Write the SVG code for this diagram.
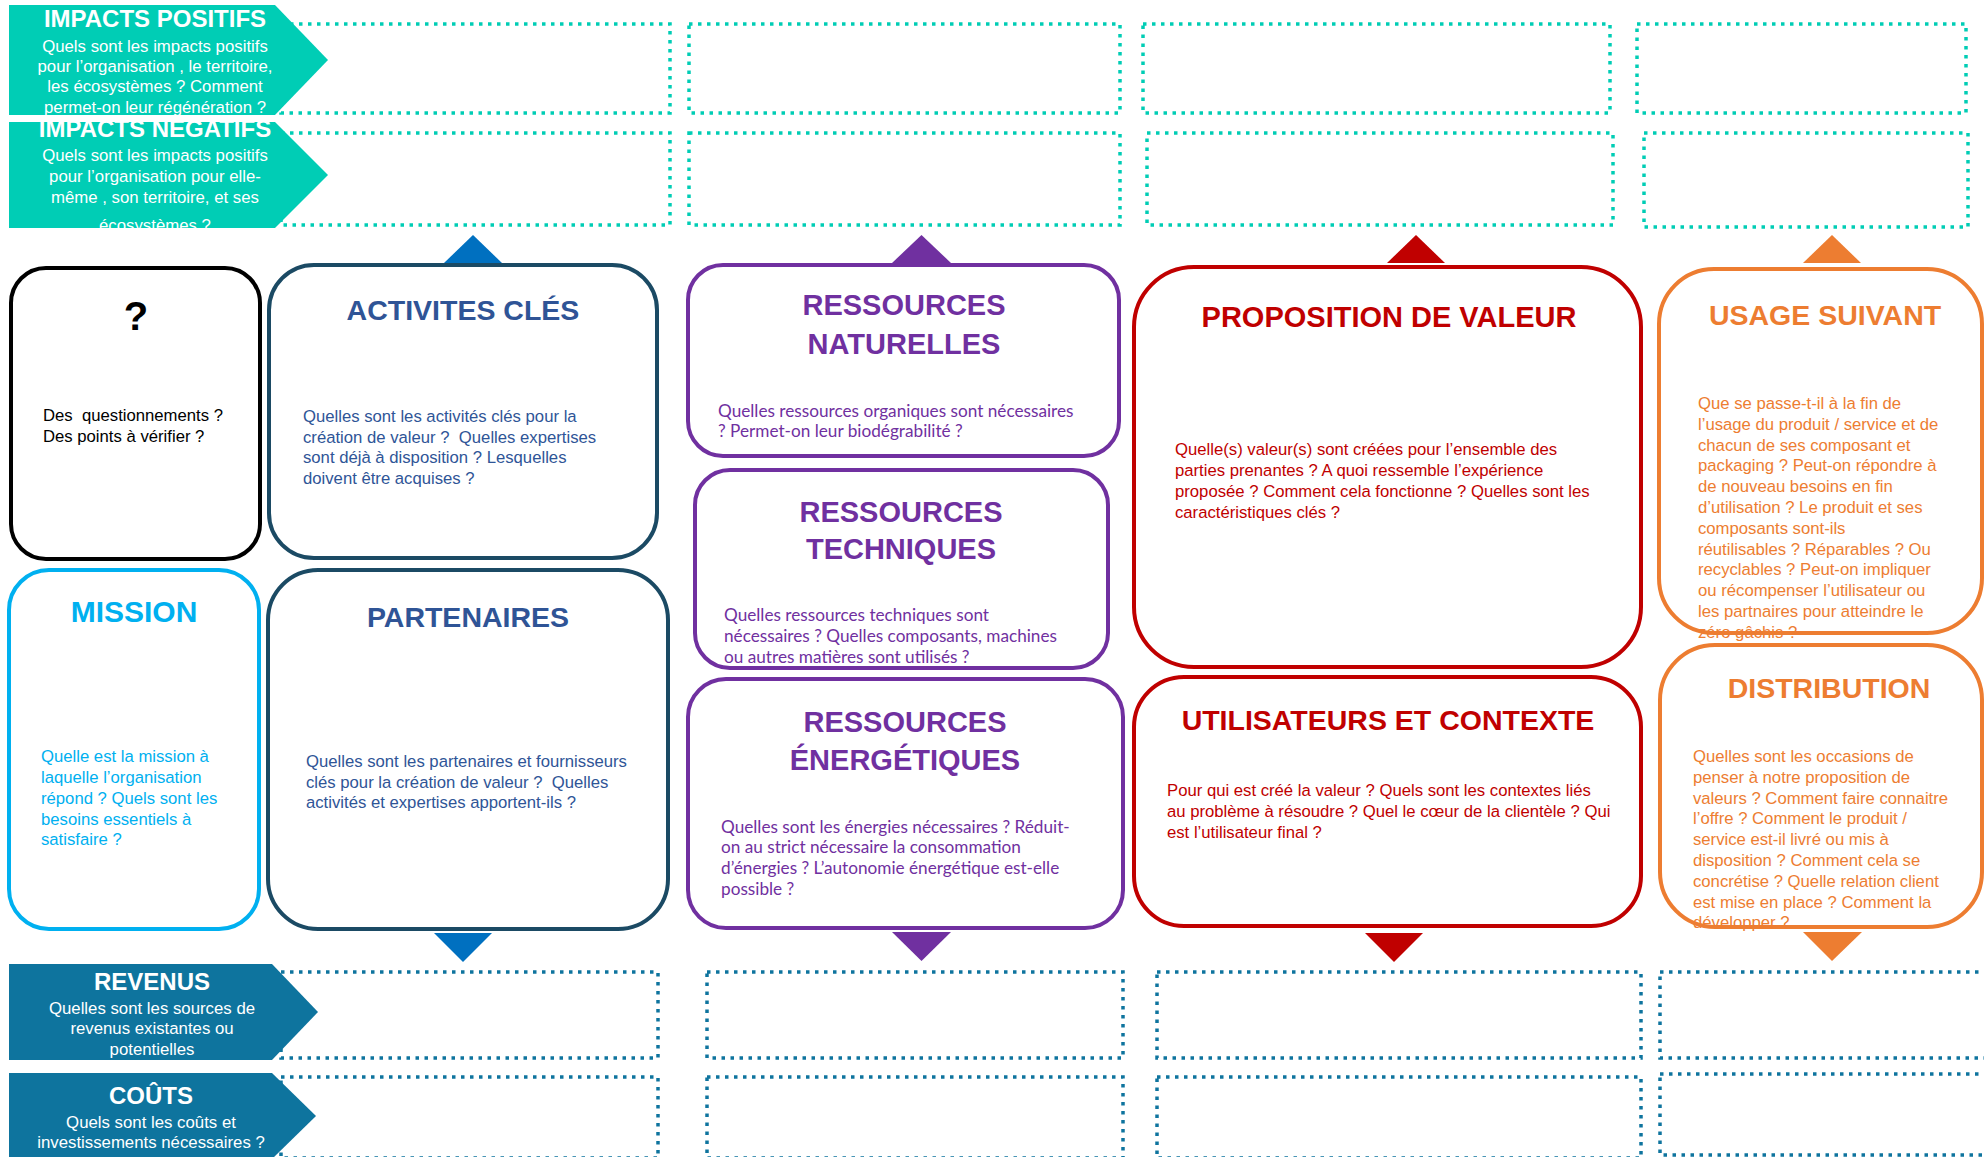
<svg xmlns="http://www.w3.org/2000/svg" width="1984" height="1157" viewBox="0 0 1984 1157">
<style>
text{font-family:"Liberation Sans",Arial,sans-serif}
.dt{fill:none;stroke:#00CDB5;stroke-width:3.5;stroke-dasharray:3.5 5.5}
.db{fill:none;stroke:#0E749E;stroke-width:3.5;stroke-dasharray:3.5 5.5}
.node{fill:#fff;stroke-width:4}
.ttl{font-weight:bold;font-size:28.5px;text-anchor:middle}
.bd{font-size:16.7px}
.pt{font-weight:bold;font-size:29px;text-anchor:middle;fill:#7030A0}
.pb{font-family:Lato,"Liberation Sans",sans-serif;font-size:17.2px;fill:#7030A0}
.ct{fill:#fff;font-weight:bold;font-size:24px;text-anchor:middle}
.cs{fill:#fff;font-size:16.8px;text-anchor:middle}
</style>
<defs>
<clipPath id="cIP"><polygon points="9,5 275,5 328,60 275,115 9,115"/></clipPath>
<clipPath id="cIN"><polygon points="9,122 275,122 328,175 275,228 9,228"/></clipPath>
</defs>
<rect width="1984" height="1157" fill="#fff"/>

<g id="impact-boxes">
<rect class="dt" x="281" y="24" width="389" height="89"/>
<rect class="dt" x="689" y="24" width="431" height="89"/>
<rect class="dt" x="1143" y="24" width="467" height="89"/>
<rect class="dt" x="1637" y="24" width="329" height="89"/>
<rect class="dt" x="281" y="133" width="389" height="92"/>
<rect class="dt" x="689" y="133" width="431" height="92"/>
<rect class="dt" x="1147" y="133" width="466" height="92"/>
<rect class="dt" x="1644" y="133" width="324" height="94"/>
</g>
<g id="finance-boxes">
<rect class="db" x="281" y="972" width="377" height="86"/>
<rect class="db" x="707" y="972" width="416" height="86"/>
<rect class="db" x="1157" y="972" width="484" height="86"/>
<rect class="db" x="1660" y="972" width="332" height="86"/>
<rect class="db" x="281" y="1077" width="377" height="81"/>
<rect class="db" x="707" y="1077" width="416" height="81"/>
<rect class="db" x="1157" y="1077" width="484" height="81"/>
<rect class="db" x="1660" y="1074" width="332" height="81"/>
</g>

<g id="impacts-positifs">
<polygon points="9,5 275,5 328,60 275,115 9,115" fill="#00CDB5"/>
<g clip-path="url(#cIP)">
<text class="ct" x="155" y="27">IMPACTS POSITIFS</text>
<text class="cs" x="155" y="52">Quels sont les impacts positifs</text>
<text class="cs" x="155" y="72">pour l’organisation , le territoire,</text>
<text class="cs" x="155" y="92">les écosystèmes ? Comment</text>
<text class="cs" x="155" y="113">permet-on leur régénération ?</text>
</g>
</g>
<g id="impacts-negatifs">
<polygon points="9,122 275,122 328,175 275,228 9,228" fill="#00CDB5"/>
<g clip-path="url(#cIN)">
<text class="ct" x="155" y="137">IMPACTS NEGATIFS</text>
<text class="cs" x="155" y="161">Quels sont les impacts positifs</text>
<text class="cs" x="155" y="182">pour l’organisation pour elle-</text>
<text class="cs" x="155" y="203">même , son territoire, et ses</text>
<text class="cs" x="155" y="231">écosystèmes ?</text>
</g>
</g>
<g id="revenus">
<polygon points="9,964 272,964 318,1012 272,1060 9,1060" fill="#0E749E"/>
<text class="ct" x="152" y="990">REVENUS</text>
<text class="cs" x="152" y="1014">Quelles sont les sources de</text>
<text class="cs" x="152" y="1034">revenus existantes ou</text>
<text class="cs" x="152" y="1055">potentielles</text>
</g>
<g id="couts">
<polygon points="9,1073 272,1073 316,1116 272,1159 9,1159" fill="#0E749E"/>
<text class="ct" x="151" y="1104">COÛTS</text>
<text class="cs" x="151" y="1128">Quels sont les coûts et</text>
<text class="cs" x="151" y="1148">investissements nécessaires ?</text>
</g>

<g id="connectors">
<polygon points="444,263 502,263 473,235" fill="#0070C0"/>
<polygon points="892,263 951,263 921.5,235" fill="#7030A0"/>
<polygon points="1387,263 1445,263 1416,235" fill="#C00000"/>
<polygon points="1803,263 1861,263 1832,235" fill="#ED7D31"/>
<polygon points="434,933 492,933 463,962" fill="#0070C0"/>
<polygon points="892,932 951,932 921.5,961" fill="#7030A0"/>
<polygon points="1365,933 1423,933 1394,962" fill="#C00000"/>
<polygon points="1803,932 1862,932 1832,961" fill="#ED7D31"/>
</g>

<g id="questions">
<rect class="node" x="11" y="268" width="249" height="291" rx="35" stroke="#000"/>
<text x="136" y="330" font-size="40" font-weight="bold" text-anchor="middle">?</text>
<text class="bd" x="43" y="421">Des&#160; questionnements ?</text>
<text class="bd" x="43" y="442">Des points à vérifier ?</text>
</g>

<g id="activites-cles" fill="#2F5597">
<rect class="node" x="269" y="265" width="388" height="293" rx="45" stroke="#1B4A64"/>
<text class="ttl" x="463" y="320" fill="#2F5496">ACTIVITES CLÉS</text>
<text class="bd" x="303" y="422">Quelles sont les activités clés pour la</text>
<text class="bd" x="303" y="443">création de valeur ?&#160; Quelles expertises</text>
<text class="bd" x="303" y="463">sont déjà à disposition ? Lesquelles</text>
<text class="bd" x="303" y="484">doivent être acquises ?</text>
</g>

<g id="mission" fill="#00B0F0">
<rect class="node" x="9" y="570" width="250" height="359" rx="40" stroke="#00B0F0"/>
<text class="ttl" x="134" y="622" style="font-size:30px">MISSION</text>
<text class="bd" x="41" y="762">Quelle est la mission à</text>
<text class="bd" x="41" y="783">laquelle l’organisation</text>
<text class="bd" x="41" y="804">répond ? Quels sont les</text>
<text class="bd" x="41" y="825">besoins essentiels à</text>
<text class="bd" x="41" y="845">satisfaire ?</text>
</g>

<g id="partenaires" fill="#2F5597">
<rect class="node" x="268" y="570" width="400" height="359" rx="50" stroke="#1B4A64"/>
<text class="ttl" x="468" y="627" fill="#2F5496">PARTENAIRES</text>
<text class="bd" x="306" y="767">Quelles sont les partenaires et fournisseurs</text>
<text class="bd" x="306" y="788">clés pour la création de valeur ?&#160; Quelles</text>
<text class="bd" x="306" y="808">activités et expertises apportent-ils ?</text>
</g>

<g id="ressources-naturelles">
<rect class="node" x="688" y="265" width="431" height="191" rx="35" stroke="#7030A0"/>
<text class="pt" x="904" y="315">RESSOURCES</text>
<text class="pt" x="904" y="354">NATURELLES</text>
<text class="pb" x="718" y="417">Quelles ressources organiques sont nécessaires</text>
<text class="pb" x="718" y="437">? Permet-on leur biodégrabilité ?</text>
</g>

<g id="ressources-techniques">
<rect class="node" x="695" y="470" width="413" height="198" rx="35" stroke="#7030A0"/>
<text class="pt" x="901" y="522">RESSOURCES</text>
<text class="pt" x="901" y="559">TECHNIQUES</text>
<text class="pb" x="724" y="621">Quelles ressources techniques sont</text>
<text class="pb" x="724" y="642">nécessaires ? Quelles composants, machines</text>
<text class="pb" x="724" y="663">ou autres matières sont utilisés ?</text>
</g>

<g id="ressources-energetiques">
<rect class="node" x="688" y="679" width="435" height="249" rx="38" stroke="#7030A0"/>
<text class="pt" x="905" y="732">RESSOURCES</text>
<text class="pt" x="905" y="770">ÉNERGÉTIQUES</text>
<text class="pb" x="721" y="833">Quelles sont les énergies nécessaires ? Réduit-</text>
<text class="pb" x="721" y="853">on au strict nécessaire la consommation</text>
<text class="pb" x="721" y="874">d’énergies ? L’autonomie énergétique est-elle</text>
<text class="pb" x="721" y="895">possible ?</text>
</g>

<g id="proposition-valeur" fill="#C00000">
<rect class="node" x="1134" y="267" width="507" height="400" rx="60" stroke="#C00000"/>
<text class="ttl" x="1389" y="327" style="font-size:29px">PROPOSITION DE VALEUR</text>
<text class="bd" x="1175" y="455">Quelle(s) valeur(s) sont créées pour l’ensemble des</text>
<text class="bd" x="1175" y="476">parties prenantes ? A quoi ressemble l’expérience</text>
<text class="bd" x="1175" y="497">proposée ? Comment cela fonctionne ? Quelles sont les</text>
<text class="bd" x="1175" y="518">caractéristiques clés ?</text>
</g>

<g id="utilisateurs-contexte" fill="#C00000">
<rect class="node" x="1134" y="677" width="507" height="249" rx="50" stroke="#C00000"/>
<text class="ttl" x="1388" y="730">UTILISATEURS ET CONTEXTE</text>
<text class="bd" x="1167" y="796">Pour qui est créé la valeur ? Quels sont les contextes liés</text>
<text class="bd" x="1167" y="817">au problème à résoudre ? Quel le cœur de la clientèle ? Qui</text>
<text class="bd" x="1167" y="838">est l’utilisateur final ?</text>
</g>

<g id="usage-suivant" fill="#ED7D31">
<rect class="node" x="1659" y="269" width="323" height="364" rx="55" stroke="#ED7D31"/>
<text class="ttl" x="1825" y="325">USAGE SUIVANT</text>
<text class="bd" x="1698" y="409">Que se passe-t-il à la fin de</text>
<text class="bd" x="1698" y="430">l’usage du produit / service et de</text>
<text class="bd" x="1698" y="451">chacun de ses composant et</text>
<text class="bd" x="1698" y="471">packaging ? Peut-on répondre à</text>
<text class="bd" x="1698" y="492">de nouveau besoins en fin</text>
<text class="bd" x="1698" y="513">d’utilisation ? Le produit et ses</text>
<text class="bd" x="1698" y="534">composants sont-ils</text>
<text class="bd" x="1698" y="555">réutilisables ? Réparables ? Ou</text>
<text class="bd" x="1698" y="575">recyclables ? Peut-on impliquer</text>
<text class="bd" x="1698" y="596">ou récompenser l’utilisateur ou</text>
<text class="bd" x="1698" y="617">les partnaires pour atteindre le</text>
<text class="bd" x="1698" y="638">zéro gâchis ?</text>
</g>

<g id="distribution" fill="#ED7D31">
<rect class="node" x="1660" y="645" width="322" height="282" rx="55" stroke="#ED7D31"/>
<text class="ttl" x="1829" y="698">DISTRIBUTION</text>
<text class="bd" x="1693" y="762">Quelles sont les occasions de</text>
<text class="bd" x="1693" y="783">penser à notre proposition de</text>
<text class="bd" x="1693" y="804">valeurs ? Comment faire connaitre</text>
<text class="bd" x="1693" y="824">l’offre ? Comment le produit /</text>
<text class="bd" x="1693" y="845">service est-il livré ou mis à</text>
<text class="bd" x="1693" y="866">disposition ? Comment cela se</text>
<text class="bd" x="1693" y="887">concrétise ? Quelle relation client</text>
<text class="bd" x="1693" y="908">est mise en place ? Comment la</text>
<text class="bd" x="1693" y="928">développer ?</text>
</g>
</svg>
